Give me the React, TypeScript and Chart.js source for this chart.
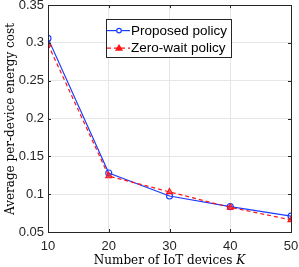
import React, { useEffect, useRef } from "react";
import { Chart, registerables } from "chart.js";

Chart.register(...registerables);

const categories = [10, 20, 30, 40, 50];
const proposed = [0.306, 0.128, 0.0976, 0.0835, 0.071];
const zeroWait = [0.298, 0.124, 0.103, 0.0826, 0.066];
const seriesNames = ["Proposed policy", "Zero-wait policy"];
const yTitle = "Average per-device energy cost";
const xTitleMain = "Number of IoT devices ";
const xTitleVar = "K";

const BLUE = "rgb(25,60,255)";
const RED = "rgb(255,20,20)";
const AXIS = "#262626";
const GRID = "#e6e6e6";
const SANS = "'Liberation Sans', Arial, sans-serif";
const SERIF = "'DejaVu Serif', serif";

const decorPlugin = {
  id: "decor",
  afterDraw(chart: any) {
    const ctx = chart.ctx;
    const { left, right, top, bottom } = chart.chartArea;
    const xs = chart.scales.x;
    const ys = chart.scales.y;
    ctx.save();
    // box
    ctx.strokeStyle = AXIS;
    ctx.lineWidth = 1;
    ctx.strokeRect(Math.round(left) + 0.5, Math.round(top) + 0.5, Math.round(right - left), Math.round(bottom - top));
    // inner tick marks
    const tl = 3;
    ctx.beginPath();
    xs.ticks.forEach((t: any) => {
      const px = Math.round(xs.getPixelForValue(t.value)) + 0.5;
      ctx.moveTo(px, bottom);
      ctx.lineTo(px, bottom - tl);
      ctx.moveTo(px, top);
      ctx.lineTo(px, top + tl);
    });
    ys.ticks.forEach((t: any) => {
      const py = Math.round(ys.getPixelForValue(t.value)) + 0.5;
      ctx.moveTo(left, py);
      ctx.lineTo(left + tl, py);
      ctx.moveTo(right, py);
      ctx.lineTo(right - tl, py);
    });
    ctx.stroke();

    // legend
    const lx = left + 58;
    const ly = top + 14;
    const lw = 125;
    const lh = 38;
    ctx.fillStyle = "#ffffff";
    ctx.fillRect(lx, ly, lw, lh);
    ctx.strokeStyle = AXIS;
    ctx.strokeRect(Math.round(lx) + 0.5, Math.round(ly) + 0.5, lw, lh);
    const rows = [
      { name: seriesNames[0], color: BLUE, dash: [] as number[], marker: "circle" },
      { name: seriesNames[1], color: RED, dash: [4, 3], marker: "triangle" },
    ];
    rows.forEach((r, i) => {
      const cy = ly + 11.5 + i * 17.5;
      ctx.strokeStyle = r.color;
      ctx.lineWidth = 1.2;
      ctx.setLineDash(r.dash);
      ctx.beginPath();
      ctx.moveTo(lx + 1, cy);
      ctx.lineTo(lx + 24, cy);
      ctx.stroke();
      ctx.setLineDash([]);
      const mx = lx + 13;
      ctx.beginPath();
      if (r.marker === "circle") {
        ctx.arc(mx, cy, 2.3, 0, Math.PI * 2);
        ctx.fillStyle = "#fff";
        ctx.fill();
      } else {
        ctx.moveTo(mx, cy - 3);
        ctx.lineTo(mx + 3, cy + 2);
        ctx.lineTo(mx - 3, cy + 2);
        ctx.closePath();
        ctx.fillStyle = RED;
        ctx.fill();
      }
      ctx.stroke();
      ctx.fillStyle = "#000";
      ctx.font = `13.5px ${SANS}`;
      ctx.textAlign = "left";
      ctx.textBaseline = "middle";
      ctx.fillText(r.name, lx + 25, cy + 0.5);
    });

    // axis titles
    ctx.fillStyle = "#000";
    ctx.textBaseline = "middle";
    ctx.font = `12px ${SERIF}`;
    ctx.save();
    ctx.translate(11, 119);
    ctx.rotate(-Math.PI / 2);
    ctx.textAlign = "center";
    ctx.fillText(yTitle, 0, 0);
    ctx.restore();

    ctx.font = `12px ${SERIF}`;
    const w1 = ctx.measureText(xTitleMain).width;
    ctx.font = `italic 12px ${SERIF}`;
    const w2 = ctx.measureText(xTitleVar).width;
    const cx = (left + right) / 2;
    const sx = cx - (w1 + w2) / 2;
    const ty = bottom + 29;
    ctx.textAlign = "left";
    ctx.font = `12px ${SERIF}`;
    ctx.fillText(xTitleMain, sx, ty);
    ctx.font = `italic 12px ${SERIF}`;
    ctx.fillText(xTitleVar, sx + w1, ty);
    ctx.restore();
  },
};

export default function App() {
  const ref = useRef<HTMLCanvasElement | null>(null);
  useEffect(() => {
    document.body.style.margin = "0";
    const canvas = ref.current!;
    const chart = new Chart(canvas, {
      type: "line",
      data: {
        datasets: [
          {
            label: seriesNames[0],
            data: categories.map((c, i) => ({ x: c, y: proposed[i] })),
            borderColor: BLUE,
            backgroundColor: "rgba(255,255,255,0)",
            borderWidth: 1.2,
            pointStyle: "circle",
            pointRadius: 3,
            pointBorderWidth: 1.1,
            pointBorderColor: BLUE,
            pointBackgroundColor: "rgba(255,255,255,0)",
            order: 1,
          },
          {
            label: seriesNames[1],
            data: categories.map((c, i) => ({ x: c, y: zeroWait[i] })),
            borderColor: RED,
            backgroundColor: "rgba(255,0,0,0.6)",
            borderWidth: 1.2,
            borderDash: [4, 3],
            pointStyle: "triangle",
            pointRadius: 3.5,
            pointBorderWidth: 1.1,
            pointBorderColor: RED,
            pointBackgroundColor: "rgba(255,0,0,0.55)",
            order: 0,
          },
        ],
      },
      options: {
        responsive: false,
        animation: false,
        layout: { padding: { left: 0, top: 5, right: 8, bottom: 0 } },
        plugins: { legend: { display: false }, tooltip: { enabled: false } },
        scales: {
          x: {
            type: "linear",
            min: 10,
            max: 50,
            ticks: {
              stepSize: 10,
              padding: 7,
              color: AXIS,
              font: { family: SANS, size: 13 },
              maxRotation: 0,
            },
            grid: { color: GRID, drawTicks: false },
            border: { display: false },
            afterFit: (s: any) => {
              s.height = 35;
              s.paddingLeft = 0;
              s.paddingRight = 0;
            },
          },
          y: {
            type: "linear",
            min: 0.05,
            max: 0.35,
            ticks: {
              stepSize: 0.05,
              padding: 4,
              color: AXIS,
              font: { family: SANS, size: 13 },
              callback: (v: any) => String(Number(Number(v).toFixed(2))),
            },
            grid: { color: GRID, drawTicks: false },
            border: { display: false },
            afterFit: (s: any) => {
              s.width = 48;
              s.paddingTop = 0;
              s.paddingBottom = 0;
            },
          },
        },
      },
      plugins: [decorPlugin],
    } as any);
    return () => chart.destroy();
  }, []);
  return (
    <div style={{ width: 299, height: 267 }}>
      <canvas ref={ref} width={299} height={267} style={{ display: "block" }} />
    </div>
  );
}
